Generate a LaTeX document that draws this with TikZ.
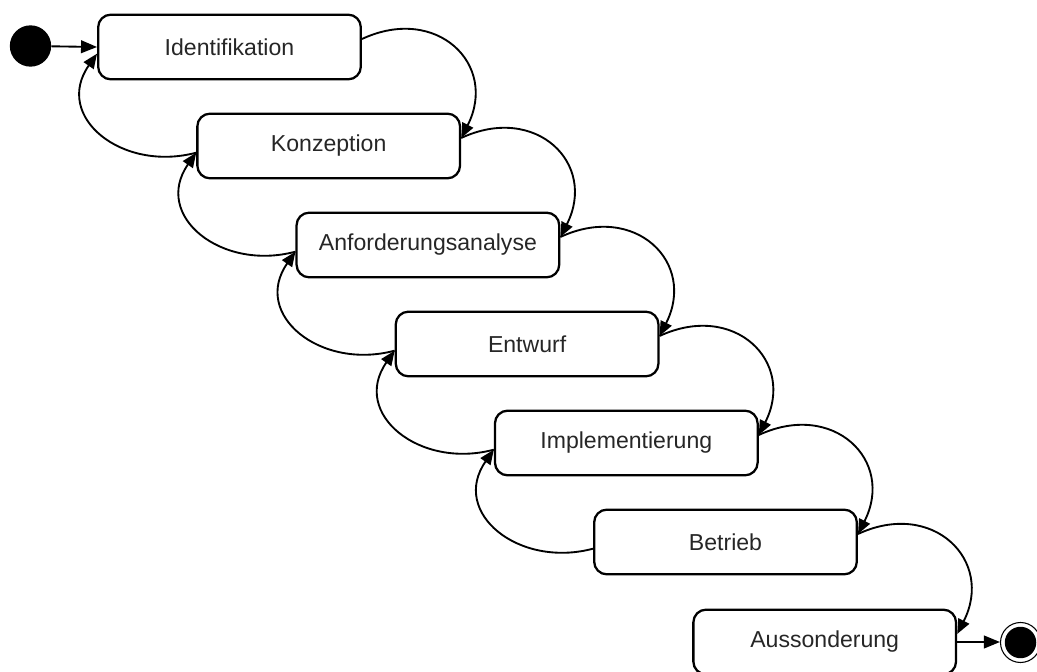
\documentclass[tikz,border=0pt]{standalone}
\usepackage{fontspec}
\setmainfont{Liberation Sans}
\usetikzlibrary{arrows.meta}

\begin{document}
\begin{tikzpicture}[x=0.75pt,y=0.75pt,
  phase/.style={draw, line width=1.7pt, rounded corners=9.5pt,
    minimum width=197pt, minimum height=48.5pt, inner sep=0pt,
    font=\fontsize{17.3}{20}\selectfont, text=black!85},
  flow/.style={line width=1.4pt, -{Triangle[length=12pt,width=9.5pt]}},
  loop/.style={line width=1.4pt, -{Triangle[length=11pt,width=9pt]}},
  initial/.style={circle, fill=black, inner sep=0pt, minimum size=31pt},
  final/.style={circle, draw, line width=0.8pt, inner sep=0pt, minimum size=30pt,
    path picture={\fill (path picture bounding box.center) circle (11.8pt);}}]

\useasboundingbox (0,0) rectangle (1037,671);

% phases of the life cycle, stepped down to the right
\node[phase] (p0) at (229.5,624) {Identifikation};
\node[phase] (p1) at (328.7,525) {Konzeption};
\node[phase] (p2) at (427.9,426) {Anforderungsanalyse};
\node[phase] (p3) at (527.1,327) {Entwurf};
\node[phase] (p4) at (626.3,228) {Implementierung};
\node[phase] (p5) at (725.5,129) {Betrieb};
\node[phase] (p6) at (824.7,29)  {Aussonderung};

% start and end states
\node[initial] (start) at (30.5,625) {};
\node[final] (stop) at (1020.5,28.5) {};

\draw[flow] (start) -- (p0.west);
\draw[flow] (p6.east) -- (p6.east -| stop.west);

% forward transitions on the right
\foreach \a/\b in {p0/p1,p1/p2,p2/p3,p3/p4,p4/p5,p5/p6}
  \draw[loop] ([yshift=6pt]\a.east) to[out=25,in=63,looseness=1.5] ([yshift=6pt]\b.east);

% backward transitions on the left
\foreach \a/\b in {p1/p0,p2/p1,p3/p2,p4/p3,p5/p4}
  \draw[loop] ([yshift=-5pt]\a.west) to[out=195,in=235,looseness=1.4] ([yshift=-5pt]\b.west);

\end{tikzpicture}
\end{document}
